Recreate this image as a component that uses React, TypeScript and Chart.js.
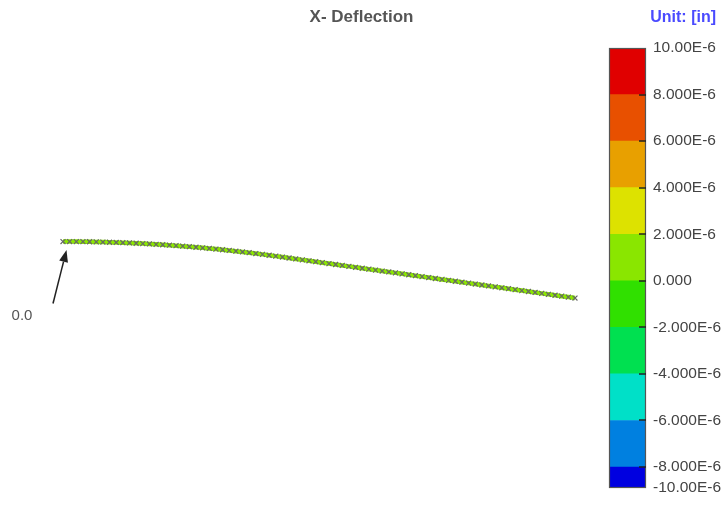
import React, { useEffect, useRef } from "react";
import { Chart, registerables } from "chart.js";
Chart.register(...registerables);

const TITLE = "X- Deflection";
const UNIT_LABEL = "Unit: [in]";
const NODE_LABEL = "0.0";
const FONT = "Arial, 'Liberation Sans', sans-serif";

// node positions along the beam (in)
const nodeX = [
  0, 1, 2, 3, 4, 5, 6, 7, 8, 9, 10, 11, 12, 13, 14, 15, 16, 17, 18, 19,
  20, 21, 22, 23, 24, 25, 26, 27, 28, 29, 30, 31, 32, 33, 34, 35, 36, 37, 38, 39,
  40, 41, 42, 43, 44, 45, 46, 47, 48, 49, 50, 51, 52, 53, 54, 55, 56, 57, 58, 59,
  60, 61, 62, 63, 64, 65, 66, 67, 68, 69, 70, 71, 72, 73, 74, 75, 76, 77,
];
// vertical node positions (in)
const nodeY = [
  0, -0.002, -0.009, -0.019, -0.034, -0.054, -0.077, -0.105, -0.137, -0.174,
  -0.215, -0.26, -0.309, -0.363, -0.42, -0.483, -0.549, -0.62, -0.695, -0.774,
  -0.858, -0.946, -1.038, -1.135, -1.236, -1.341, -1.45, -1.564, -1.682, -1.804,
  -1.931, -2.061, -2.196, -2.336, -2.476, -2.616, -2.756, -2.896, -3.036, -3.176,
  -3.316, -3.456, -3.596, -3.736, -3.876, -4.016, -4.156, -4.296, -4.436, -4.576,
  -4.716, -4.856, -4.996, -5.136, -5.276, -5.416, -5.556, -5.696, -5.836, -5.976,
  -6.116, -6.256, -6.396, -6.536, -6.676, -6.816, -6.956, -7.096, -7.236, -7.376,
  -7.516, -7.656, -7.796, -7.936, -8.076, -8.216, -8.356, -8.496,
];

// colour legend, values in E-6 in
const bandEdges = [-10, -8, -6, -4, -2, 0, 2, 4, 6, 8, 10];
const bandColors = [
  "#0000e0", "#0080e0", "#00e0c8", "#00e050", "#30e000",
  "#8ae600", "#dde200", "#e8a000", "#e85000", "#e00000",
];
const tickLabels = [
  "-10.00E-6", "-8.000E-6", "-6.000E-6", "-4.000E-6", "-2.000E-6", "0.000",
  "2.000E-6", "4.000E-6", "6.000E-6", "8.000E-6", "10.00E-6",
];
const legendMin = -8.9; // visible bottom of the legend bar
const beamBand = 5; // beam deflection lies in the 0 .. 2E-6 band

export default function App() {
  const mainRef = useRef<HTMLCanvasElement>(null);
  const barRef = useRef<HTMLCanvasElement>(null);

  useEffect(() => {
    const arrowPlugin = {
      id: "nodeArrow",
      afterDatasetsDraw(chart: any) {
        const pt = chart.getDatasetMeta(0).data[0];
        if (!pt) return;
        const ctx = chart.ctx;
        const tipX = pt.x + 3.5, tipY = pt.y + 8.5;
        const tailX = pt.x - 10, tailY = pt.y + 62;
        const ang = Math.atan2(tipY - tailY, tipX - tailX);
        const hl = 12, hw = 4.5;
        const bx = tipX - Math.cos(ang) * hl, by = tipY - Math.sin(ang) * hl;
        ctx.save();
        ctx.strokeStyle = "#222";
        ctx.fillStyle = "#222";
        ctx.lineWidth = 1.5;
        ctx.beginPath();
        ctx.moveTo(tailX, tailY);
        ctx.lineTo(bx, by);
        ctx.stroke();
        ctx.beginPath();
        ctx.moveTo(tipX, tipY);
        ctx.lineTo(bx + Math.sin(ang) * hw, by - Math.cos(ang) * hw);
        ctx.lineTo(bx - Math.sin(ang) * hw, by + Math.cos(ang) * hw);
        ctx.closePath();
        ctx.fill();
        ctx.font = `15px ${FONT}`;
        ctx.fillStyle = "#555";
        ctx.textAlign = "center";
        ctx.textBaseline = "middle";
        ctx.fillText(NODE_LABEL, pt.x - 41, pt.y + 74.5);
        ctx.restore();
      },
    };

    const main = new Chart(mainRef.current!, {
      type: "scatter",
      data: {
        datasets: [
          {
            data: nodeX.map((x, i) => ({ x, y: nodeY[i] })),
            showLine: true,
            borderColor: bandColors[beamBand],
            borderWidth: 4.5,
            pointStyle: "crossRot",
            pointRadius: 3.5,
            pointBorderColor: "#666",
            pointBorderWidth: 1.2,
            pointBackgroundColor: "rgba(0,0,0,0)",
            tension: 0,
          },
        ],
      },
      options: {
        responsive: false,
        animation: false,
        layout: { padding: 0, autoPadding: false },
        scales: {
          x: { type: "linear", display: false, min: -9.475, max: 99.26 },
          y: { type: "linear", display: false, min: -42.63, max: 30.7 },
        },
        plugins: {
          legend: { display: false },
          tooltip: { enabled: false },
          title: {
            display: true,
            text: TITLE,
            color: "#555",
            font: { family: FONT, size: 17, weight: "bold" },
            padding: { top: 7, bottom: 10 },
          },
        },
      },
      plugins: [arrowPlugin],
    } as any);

    const framePlugin = {
      id: "legendFrame",
      afterDatasetsDraw(chart: any) {
        const { ctx, chartArea: a } = chart;
        const y = chart.scales.y;
        ctx.save();
        ctx.strokeStyle = "#555";
        ctx.lineWidth = 1.2;
        ctx.strokeRect(a.left + 0.5, a.top + 0.5, a.right - a.left - 1, a.bottom - a.top - 1);
        ctx.strokeStyle = "#222";
        ctx.lineWidth = 1.5;
        bandEdges.forEach((v) => {
          if (v <= legendMin || v >= 10) return;
          const py = Math.round(y.getPixelForValue(v));
          ctx.beginPath();
          ctx.moveTo(a.right - 7, py);
          ctx.lineTo(a.right, py);
          ctx.stroke();
        });
        ctx.restore();
      },
    };

    const bar = new Chart(barRef.current!, {
      type: "bar",
      data: {
        labels: [""],
        datasets: bandColors.map((c, i) => ({
          data: [[bandEdges[i], bandEdges[i + 1]]],
          backgroundColor: c,
          borderWidth: 0,
          grouped: false,
          barPercentage: 1,
          categoryPercentage: 1,
        })),
      },
      options: {
        responsive: false,
        animation: false,
        layout: { padding: { left: 19, right: 0, top: 48, bottom: 37 }, autoPadding: false },
        scales: {
          x: { display: false },
          y: {
            type: "linear",
            position: "right",
            min: legendMin,
            max: 10,
            afterBuildTicks: (s: any) => {
              s.ticks = bandEdges.map((v) => ({ value: Math.max(v, legendMin) }));
            },
            afterFit: (s: any) => {
              s.width = 77;
            },
            grid: { display: false, drawTicks: false },
            border: { display: false },
            ticks: {
              autoSkip: false,
              padding: 7,
              color: "#444",
              font: { family: FONT, size: 15.5 },
              callback: (_v: any, i: number) => tickLabels[i],
            },
          },
        },
        plugins: {
          legend: { display: false },
          tooltip: { enabled: false },
          title: { display: false },
        },
      },
      plugins: [framePlugin],
    } as any);

    return () => {
      main.destroy();
      bar.destroy();
    };
  }, []);

  return (
    <div style={{ position: "fixed", left: 0, top: 0, width: 723, height: 525, background: "#fff", overflow: "hidden" }}>
      <canvas ref={mainRef} width={723} height={525} style={{ position: "absolute", left: 0, top: 0 }} />
      <canvas ref={barRef} width={133} height={525} style={{ position: "absolute", left: 590, top: 0 }} />
      <div
        style={{
          position: "absolute",
          right: 7,
          top: 8,
          lineHeight: "18px",
          font: `bold 16px ${FONT}`,
          color: "#4a4aff",
          whiteSpace: "nowrap",
        }}
      >
        {UNIT_LABEL}
      </div>
    </div>
  );
}
